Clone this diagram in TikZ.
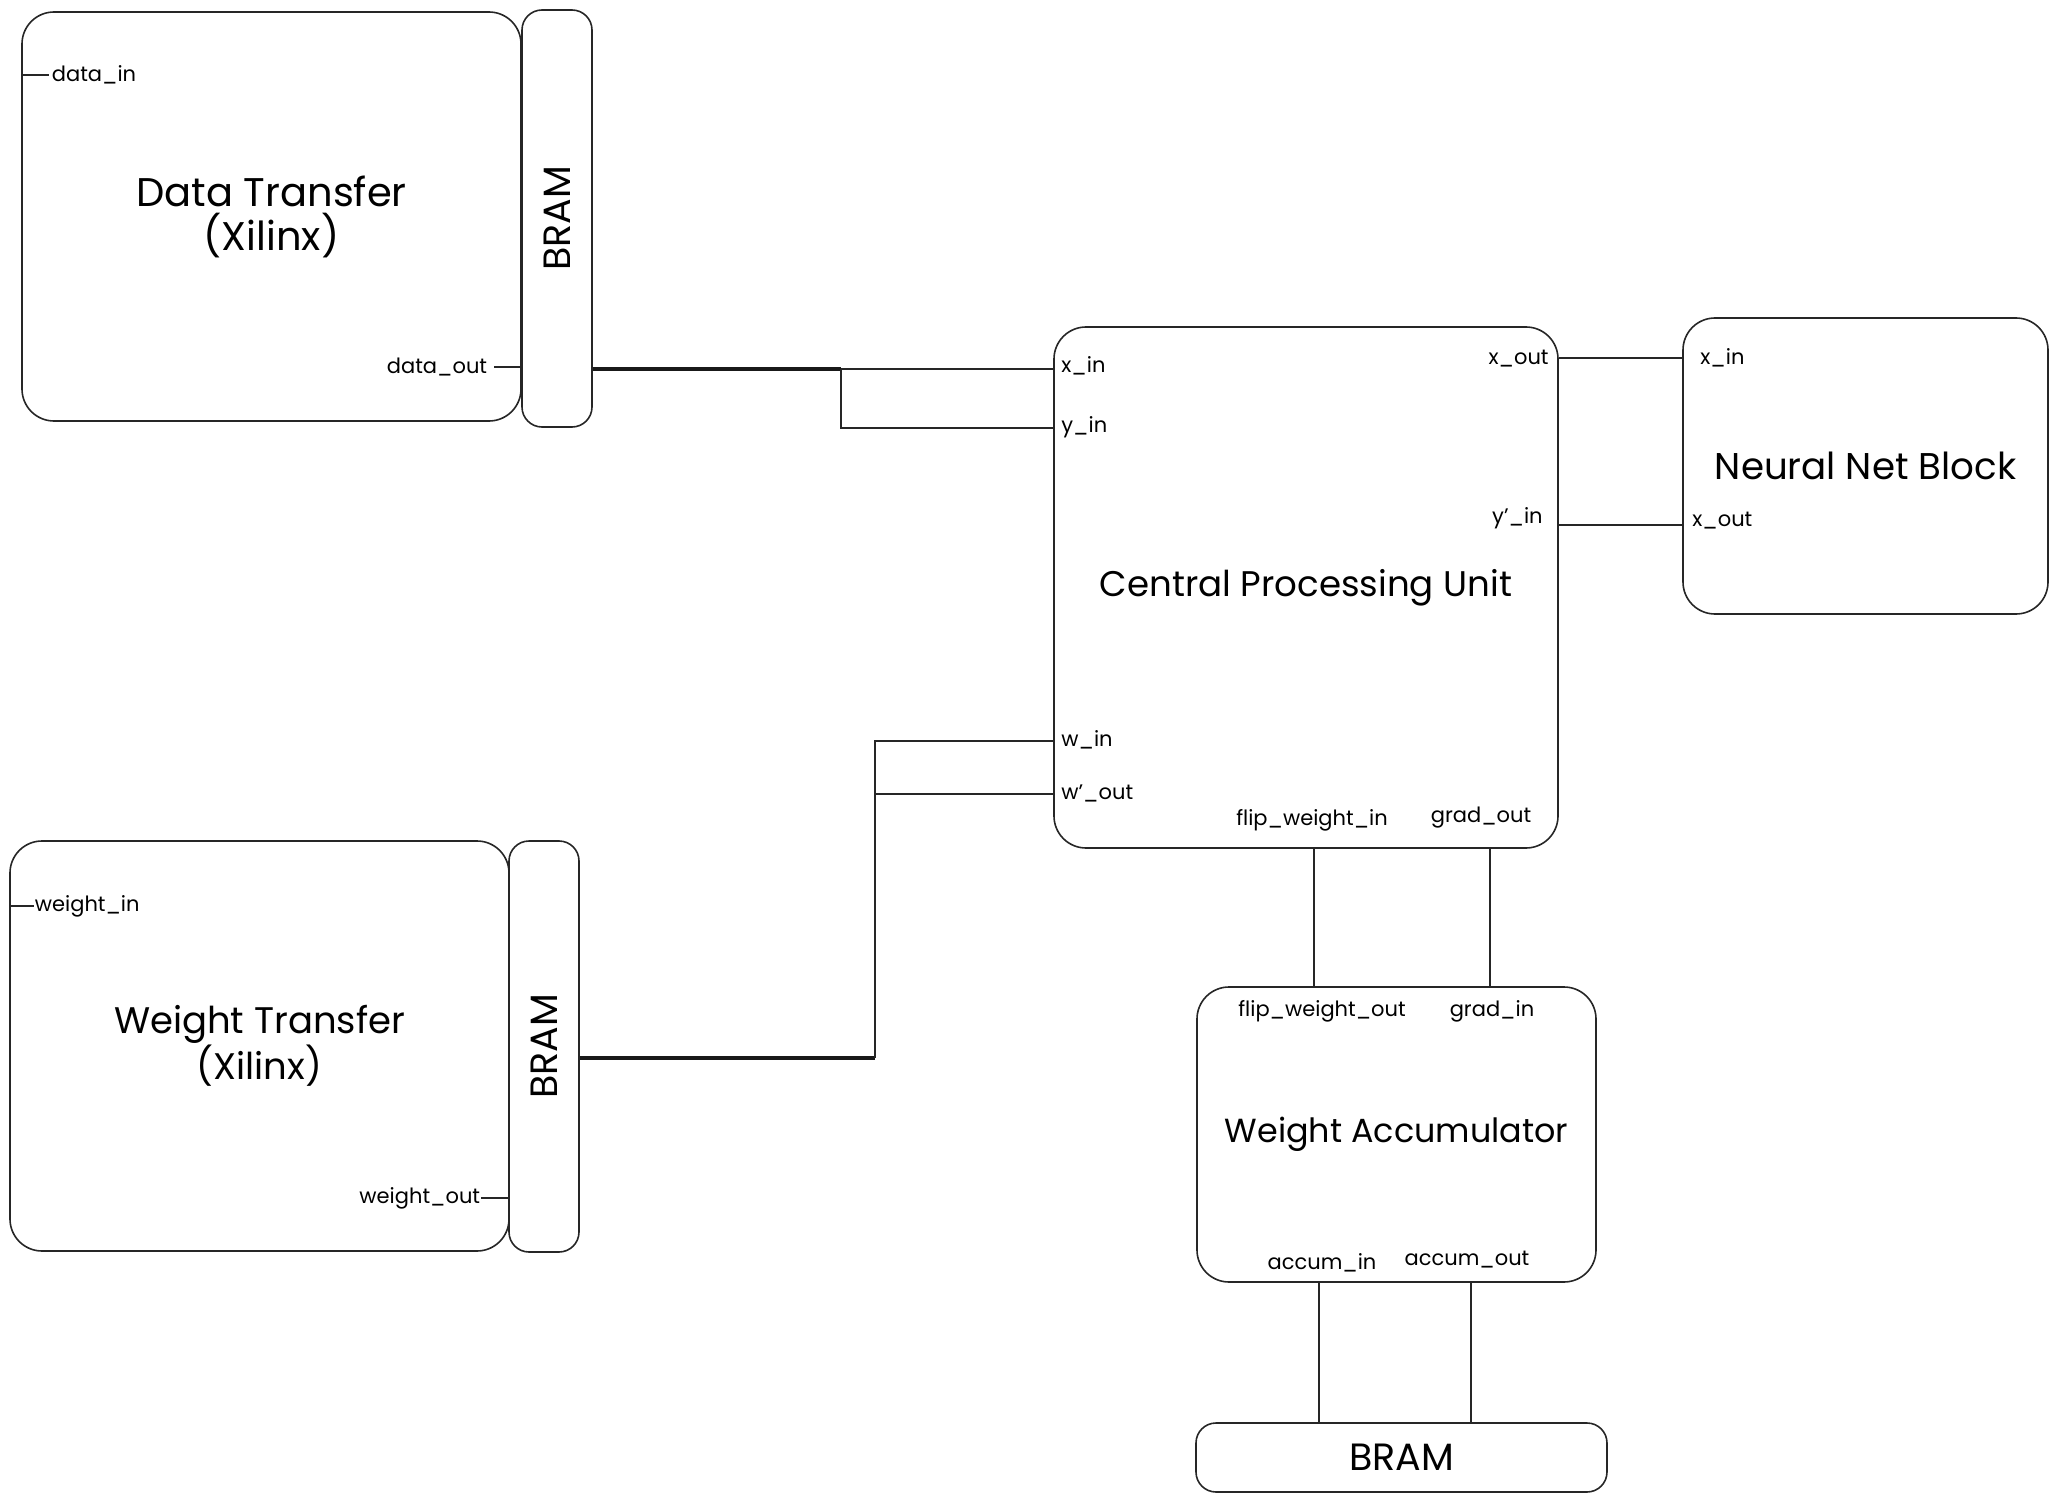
\documentclass[tikz,border=0pt]{standalone}
\usepackage{fontspec}
\setmainfont{Poppins}
\begin{document}
\begin{tikzpicture}[x=0.5pt,y=-0.5pt,
  box/.style 2 args={draw=black!85, line width=0.8pt, rounded corners=16pt,
    minimum width=#1*0.5pt, minimum height=#2*0.5pt, inner sep=0pt,
    align=center, font=\fontsize{19}{22}\selectfont},
  fsize/.style={font=\fontsize{#1}{22}\selectfont},
  title/.style={font=\fontsize{19}{22}\selectfont, inner sep=0pt},
  port/.style={font=\fontsize{10.5}{12}\selectfont, inner sep=0pt},
  wire/.style={draw=black!85, line width=0.7pt},
  bus/.style={draw=black!90, line width=2pt}]
\useasboundingbox (0,0) rectangle (2058,1503);

% blocks
\node[box={499}{409}, fsize=20] (dt) at (271.5,216.5) {Data Transfer\\(Xilinx)};
\node[box={70}{417}, rounded corners=10pt] (bram1) at (557,218.5) {};
\node[title, rotate=90] (bram1t) at (bram1.center) {BRAM};

\node[box={499}{410}, fsize=18.5] (wt) at (259.5,1046) {Weight Transfer\\(Xilinx)};
\node[box={70}{411}, rounded corners=10pt] (bram2) at (544,1046.5) {};
\node[title, rotate=90] (bram2t) at (bram2.center) {BRAM};

\node[box={504}{521}, fsize=17.8] (cpu) at (1306,587.5) {Central Processing Unit};
\node[box={365}{296}, fsize=18.6] (nnb) at (1865.5,466) {Neural Net Block};
\node[box={399}{295}, fsize=16.7] (wa) at (1396.5,1134.5) {Weight Accumulator};
\node[box={411}{69}, rounded corners=10pt] (bram3) at (1401.5,1457.5) {BRAM};

% port stubs and labels on the transfer blocks
\draw[wire] (dt.west |- 0,75) -- ++(28,0) node[port, anchor=west, xshift=1pt] (lDin) {data\_in};
\draw[wire] (dt.east |- 0,367) -- ++(-28,0) node[port, anchor=east, xshift=-3pt] (lDout) {data\_out};
\draw[wire] (wt.west |- 0,906) -- ++(25,0) node[port, anchor=west] (lWin) {weight\_in};
\draw[wire] (wt.east |- 0,1198) -- ++(-29,0) node[port, anchor=east] (lWout) {weight\_out};

% CPU port labels
\node[port, anchor=west] (lxin) at (1061,366) {x\_in};
\node[port, anchor=west] (lyin) at (1061,427) {y\_in};
\node[port, anchor=west] (lwin) at (1061,740) {w\_in};
\node[port, anchor=west] (lwout) at (1061,793) {w'\_out};
\node[port, anchor=east] (lxout) at (1549,359) {x\_out};
\node[port, anchor=east] (lypin) at (1543,518) {y'\_in};
\node[port] (lfwin) at (1312,820) {flip\_weight\_in};
\node[port] (lgout) at (1481,818) {grad\_out};

% Neural net block port labels
\node[port, anchor=west] (lnxin) at (1700,358) {x\_in};
\node[port, anchor=west] (lnxout) at (1692,521) {x\_out};

% accumulator port labels
\node[port] (lfwout) at (1322,1011) {flip\_weight\_out};
\node[port] (lgin) at (1492,1011) {grad\_in};
\node[port] (lain) at (1322,1263) {accum\_in};
\node[port] (laout) at (1467,1260) {accum\_out};

% data path into the CPU
\coordinate (jd) at (841,369);
\coordinate (jy) at (841,428);
\draw[bus] (bram1.east |- jd) -- (jd);
\draw[wire] (jd) -- (cpu.west |- jd);
\draw[wire] (jd) -- (jy) -- (cpu.west |- jy);

% weight path into the CPU
\coordinate (jw) at (875,1058);
\coordinate (jwi) at (875,741);
\coordinate (jwo) at (875,794);
\draw[bus] (bram2.east |- jw) -- (jw);
\draw[wire] (jw) -- (jwi) -- (cpu.west |- jwi);
\draw[wire] (jwo) -- (cpu.west |- jwo);

% CPU <-> neural net block
\draw[wire] (cpu.east |- 0,358) -- (nnb.west |- 0,358);
\draw[wire] (cpu.east |- 0,525) -- (nnb.west |- 0,525);

% CPU <-> weight accumulator
\draw[wire] (cpu.south -| 1314,0) -- (wa.north -| 1314,0);
\draw[wire] (cpu.south -| 1490,0) -- (wa.north -| 1490,0);

% weight accumulator <-> BRAM
\draw[wire] (wa.south -| 1319,0) -- (bram3.north -| 1319,0);
\draw[wire] (wa.south -| 1471,0) -- (bram3.north -| 1471,0);
\end{tikzpicture}
\end{document}
